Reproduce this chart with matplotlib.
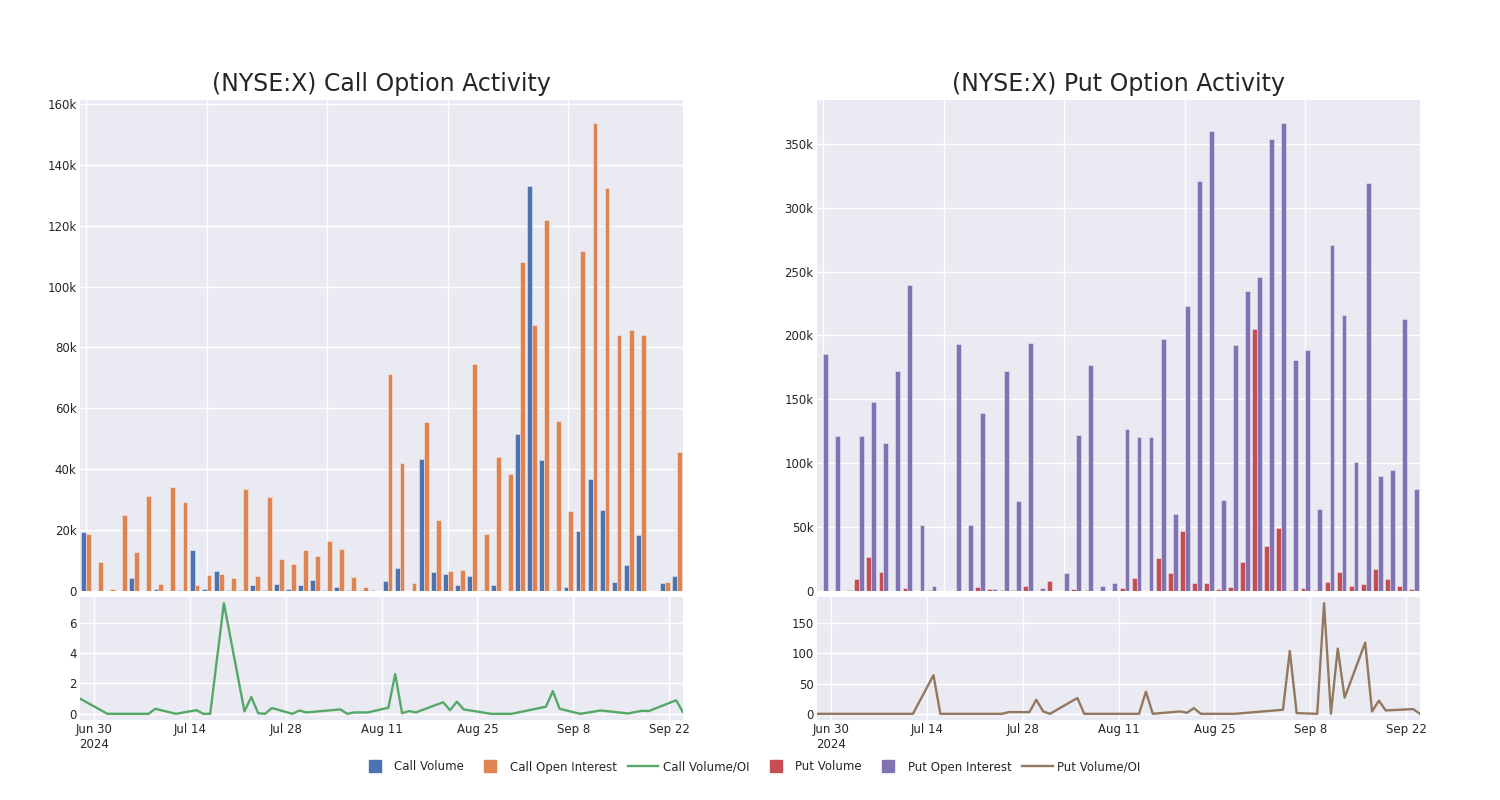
import matplotlib
matplotlib.use("Agg")
import matplotlib.pyplot as plt
from matplotlib.lines import Line2D
from matplotlib.ticker import FuncFormatter, MultipleLocator
import numpy as np
import pandas as pd

# ---------------- data ----------------
call_volume = [19300, 0, 0, 0, 4200, 0, 500, 0, 400, 13400, 700, 6600, 200, 300, 1900, 300,
               2300, 800, 1900, 3500, 300, 1300, 200, 400, 300, 3300, 7700, 100, 43400, 6200,
               5500, 2000, 4800, 300, 1900, 100, 51500, 133000, 43000, 300, 1200, 19600, 36900,
               26500, 2900, 8700, 18400, 0, 2600, 4900]
call_oi = [18700, 9500, 600, 25000, 12700, 31200, 2400, 34300, 29300, 1850, 5100, 5700, 4300,
           33400, 4800, 30800, 10400, 8900, 13600, 11600, 16300, 13800, 4500, 1200, 100, 71200,
           42200, 2500, 55600, 23200, 6700, 6900, 74500, 18800, 44000, 38400, 108200, 87300,
           121800, 56000, 26200, 111600, 153600, 132500, 84200, 85600, 84200, 100, 2900, 45700]
put_volume = [0, 0, 0, 9200, 27000, 15200, 300, 2400, 0, 800, 200, 0, 0, 3400, 1300, 800, 500,
              3700, 0, 7900, 0, 1300, 500, 0, 300, 2400, 10500, 0, 25700, 14100, 47100, 6500,
              6000, 1600, 3400, 23000, 205000, 35600, 49700, 800, 2100, 800, 7100, 14700, 3700,
              5500, 17300, 9200, 3700, 1600]
put_oi = [185600, 121000, 800, 121700, 147900, 115700, 172300, 239300, 51300, 3900, 300, 193200,
          51300, 139000, 1600, 172500, 70200, 194000, 2400, 0, 14400, 122300, 176700, 3700, 6000,
          126700, 120700, 120200, 196900, 60500, 223300, 321200, 360000, 71500, 192400, 234600,
          245800, 353700, 366000, 180900, 188700, 63900, 270900, 216000, 101000, 319600, 90000,
          95000, 213000, 80100]

call_line_dates = ['2024-06-28', '2024-07-02', '2024-07-08', '2024-07-09', '2024-07-12', '2024-07-15',
                   '2024-07-16', '2024-07-17', '2024-07-19', '2024-07-22', '2024-07-23', '2024-07-24',
                   '2024-07-25', '2024-07-26', '2024-07-29', '2024-07-30', '2024-07-31', '2024-08-05',
                   '2024-08-06', '2024-08-07', '2024-08-09', '2024-08-12', '2024-08-13', '2024-08-14',
                   '2024-08-15', '2024-08-16', '2024-08-20', '2024-08-21', '2024-08-22', '2024-08-23',
                   '2024-08-27', '2024-08-30', '2024-09-04', '2024-09-05', '2024-09-06', '2024-09-09',
                   '2024-09-10', '2024-09-12', '2024-09-16', '2024-09-18', '2024-09-19', '2024-09-23',
                   '2024-09-24']
call_ratio = [1.0, 0, 0, 0.33, 0, 0.24, 0, 0, 7.29, 0.16, 1.11, 0.04, 0, 0.38, 0, 0.22, 0.09, 0.29,
              0, 0.09, 0.09, 0.4, 2.62, 0.04, 0.18, 0.09, 0.76, 0.24, 0.8, 0.29, 0, 0, 0.47, 1.49,
              0.33, 0, 0.07, 0.22, 0.02, 0.2, 0.18, 0.89, 0.11]

put_line_dates = ['2024-06-28', '2024-07-12', '2024-07-15', '2024-07-16', '2024-07-25', '2024-07-26',
                  '2024-07-29', '2024-07-30', '2024-07-31', '2024-08-01', '2024-08-05', '2024-08-06',
                  '2024-08-14', '2024-08-15', '2024-08-16', '2024-08-20', '2024-08-21', '2024-08-22',
                  '2024-08-23', '2024-08-28', '2024-09-04', '2024-09-05', '2024-09-06', '2024-09-09',
                  '2024-09-10', '2024-09-11', '2024-09-12', '2024-09-13', '2024-09-16', '2024-09-17',
                  '2024-09-18', '2024-09-19', '2024-09-23', '2024-09-24']
put_ratio = [0, 0, 63.9, 0, 0, 2.8, 2.8, 23.3, 3.9, 0, 26.1, 0, 0, 36.7, 0, 3.9, 1.7, 9.4, 0, 0,
             6.7, 104, 1.1, 0, 183, 0, 108, 26.7, 117.8, 3.9, 21.7, 5.6, 7.8, 0]

x_tick_dates = ['2024-06-30', '2024-07-14', '2024-07-28', '2024-08-11', '2024-08-25', '2024-09-08', '2024-09-22']
x_tick_labels = ['Jun 30\n2024', 'Jul 14', 'Jul 28', 'Aug 11', 'Aug 25', 'Sep 8', 'Sep 22']
titles = ['(NYSE:X) Call Option Activity', '(NYSE:X) Put Option Activity']
legend_labels = ['Call Volume', 'Call Open Interest', 'Call Volume/OI',
                 'Put Volume', 'Put Open Interest', 'Put Volume/OI']

# ---------------- style ----------------
BG = '#EAEAF2'
C_BLUE, C_ORANGE, C_GREEN = '#4C72B0', '#DD8452', '#55A868'
C_RED, C_PURPLE, C_BROWN = '#C44E52', '#8172B3', '#937860'
TXT = '#262626'
plt.rcParams['font.family'] = ['DejaVu Sans']

fig = plt.figure(figsize=(15, 8), dpi=100)
W, H = 1500.0, 800.0


def axes_px(x0, y0, x1, y1):
    return fig.add_axes([x0 / W, 1 - y1 / H, (x1 - x0) / W, (y1 - y0) / H])


def style(ax):
    ax.set_facecolor(BG)
    for s in ax.spines.values():
        s.set_visible(False)
    ax.grid(True, color='white', linewidth=1.0)
    ax.set_axisbelow(True)
    ax.tick_params(length=0, labelsize=8.5, colors=TXT, pad=2.5)


kfmt = FuncFormatter(lambda v, p: '0' if v == 0 else f'{int(round(v / 1000))}k')

panels = [
    (80, 683, call_volume, call_oi, C_BLUE, C_ORANGE, 20000, call_line_dates, call_ratio, C_GREEN, 2),
    (817, 1420, put_volume, put_oi, C_RED, C_PURPLE, 50000, put_line_dates, put_ratio, C_BROWN, 50),
]

for k, (x0, x1, vol, oi, cv, co, ystep, ldates, lvals, cl, lstep) in enumerate(panels):
    ax = axes_px(x0, 100, x1, 591)
    style(ax)
    pos = np.arange(len(vol))
    bw = 0.4
    ax.bar(pos - bw / 2, vol, width=bw, color=cv, edgecolor=(1, 1, 1, 0.55), linewidth=0.5)
    ax.bar(pos + bw / 2, oi, width=bw, color=co, edgecolor=(1, 1, 1, 0.55), linewidth=0.5)
    ax.set_xlim(-0.5, len(vol) - 0.5)
    ymax = max(max(vol), max(oi)) * 1.05
    ax.set_ylim(0, ymax)
    ax.xaxis.set_major_locator(MultipleLocator(10))
    ax.set_xticklabels([])
    ax.yaxis.set_major_locator(MultipleLocator(ystep))
    ax.yaxis.set_major_formatter(kfmt)
    fig.text((x0 + x1) / 2 / W, 1 - 84 / H, titles[k], ha='center', va='center',
             fontsize=17, color=TXT)

    ax2 = axes_px(x0, 597, x1, 720)
    style(ax2)
    d = pd.to_datetime(ldates)
    ax2.plot(d, lvals, color=cl, linewidth=1.7)
    ax2.set_xlim(pd.Timestamp('2024-06-28'), pd.Timestamp('2024-09-24'))
    lmax = max(lvals)
    ax2.set_ylim(-0.056 * lmax, 1.056 * lmax)
    ax2.yaxis.set_major_locator(MultipleLocator(lstep))
    ax2.set_xticks(pd.to_datetime(x_tick_dates))
    ax2.set_xticklabels(x_tick_labels)

handles = [
    Line2D([], [], marker='s', linestyle='none', color=C_BLUE, markersize=8),
    Line2D([], [], marker='s', linestyle='none', color=C_ORANGE, markersize=8),
    Line2D([], [], color=C_GREEN, linewidth=1.7),
    Line2D([], [], marker='s', linestyle='none', color=C_RED, markersize=8),
    Line2D([], [], marker='s', linestyle='none', color=C_PURPLE, markersize=8),
    Line2D([], [], color=C_BROWN, linewidth=1.7),
]
leg = fig.legend(handles, legend_labels, loc='center', bbox_to_anchor=(0.5, 1 - 767 / H), ncol=6,
                 frameon=False, fontsize=8.5, handlelength=2.55, handletextpad=0.38,
                 columnspacing=0.95)
for t in leg.get_texts():
    t.set_color(TXT)

fig.savefig('out.png', dpi=100, facecolor='white')
